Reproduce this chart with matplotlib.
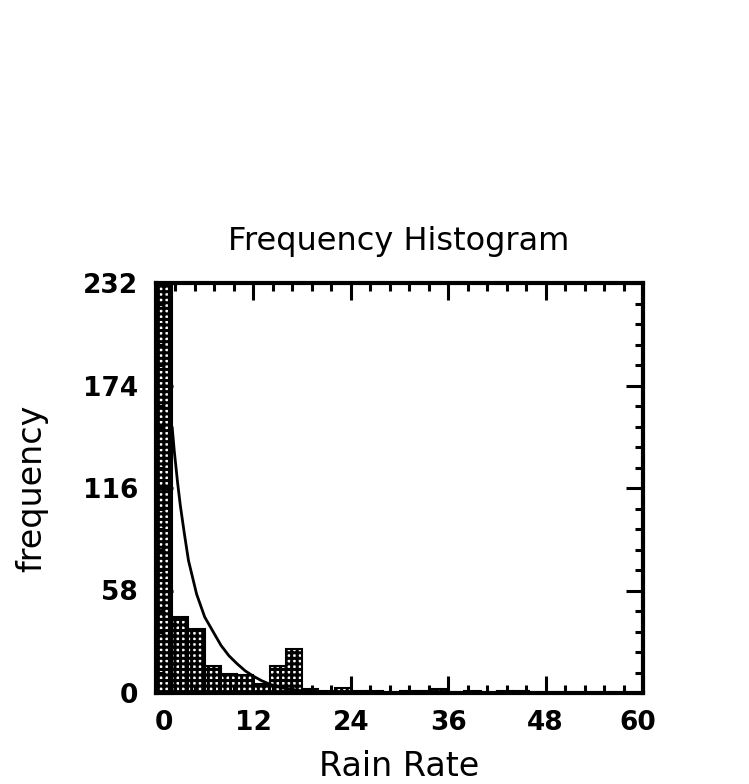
import matplotlib
matplotlib.use("Agg")
import matplotlib.pyplot as plt
import matplotlib.transforms as mtransforms
import numpy as np
from matplotlib.ticker import MultipleLocator

# histogram counts, bins of 2 mm/hr from 0 to 60
bin_edges = list(range(0, 62, 2))
counts = [232, 43, 36, 15, 11, 10, 5, 15, 25, 2,
          1, 3, 1, 1, 0, 1, 1, 2, 0, 1,
          0, 1, 1, 0, 0, 0, 0, 0, 0, 0]

# fitted curve
curve_x = [2.0, 2.25, 2.66, 3.0, 3.5, 4.0, 5.0, 6.0, 7.0, 8.0, 9.0, 10.0,
           11.0, 12.0, 13.0, 14.0, 15.0, 16.0, 18.0, 20.0, 24.0, 30.0]
curve_y = [150, 137, 119, 106, 90, 75, 56, 43, 35, 27, 21, 16.5,
           12.5, 9.5, 7, 5, 3.5, 2.5, 1.2, 0.6, 0.2, 0.0]

x_ticks = [0, 12, 24, 36, 48, 60]
y_ticks = [0, 58, 116, 174, 232]

plt.rcParams['hatch.linewidth'] = 2.2
plt.rcParams['font.family'] = 'DejaVu Sans'

W, H = 749, 784
fig = plt.figure(figsize=(W/100, H/100), dpi=100)
ax = fig.add_axes([156/W, 1-693/H, (643-156)/W, (693-283)/H])

lefts = bin_edges[:-1]
widths = [b - a for a, b in zip(bin_edges[:-1], bin_edges[1:])]
ax.bar(lefts, counts, width=widths, align='edge', color='white',
       edgecolor='black', hatch='+++', linewidth=1.5)
ax.plot(curve_x, curve_y, color='black', linewidth=2.0)

ax.set_xlim(0, 60)
ax.set_ylim(0, 232)
ax.set_xticks(x_ticks)
ax.set_yticks(y_ticks)
ax.xaxis.set_minor_locator(MultipleLocator(2.4))
ax.yaxis.set_minor_locator(MultipleLocator(11.6))
ax.tick_params(which='both', direction='in', top=True, right=True,
               width=2.2, labelsize=19)
ax.tick_params(which='major', length=12)
ax.tick_params(which='minor', length=6)
ax.tick_params(axis='x', which='major', pad=12)
ax.tick_params(axis='y', which='major', pad=13)
for lab in ax.get_xticklabels() + ax.get_yticklabels():
    lab.set_fontweight('bold')
for s in ax.spines.values():
    s.set_linewidth(3)

# first and last x labels sit slightly inside the frame
xl = ax.get_xticklabels()
xl[0].set_transform(xl[0].get_transform() +
                    mtransforms.ScaledTranslation(8/100, 0, fig.dpi_scale_trans))
xl[-1].set_transform(xl[-1].get_transform() +
                     mtransforms.ScaledTranslation(-5/100, 0, fig.dpi_scale_trans))

fig.text(399/W, 1-250/H, "Frequency Histogram", fontsize=23,
         ha='center', va='baseline')
fig.text(399/W, 1-766/H, "Rain Rate", fontsize=24,
         ha='center', va='center')
fig.text(32/W, 1-488/H, "frequency", fontsize=24, rotation=90,
         ha='center', va='center')

fig.savefig("out.png", dpi=100)
